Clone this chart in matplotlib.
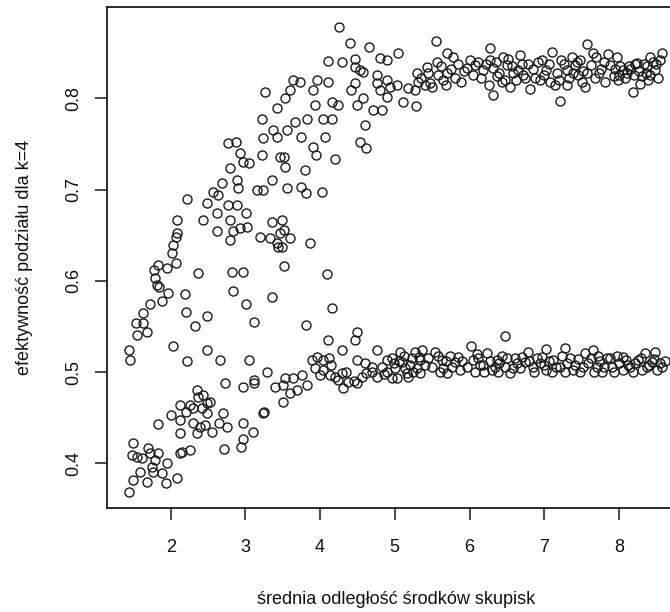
import matplotlib
matplotlib.use("Agg")
import matplotlib.pyplot as plt

plt.rcParams['font.family'] = ['Liberation Sans', 'DejaVu Sans']

# ---- upper branch (rising part and plateau ~0.82) ----
upper_x = [1.44, 1.46, 1.54, 1.55, 1.63, 1.63, 1.68, 1.72, 1.88, 1.96, 1.82,
           1.83, 1.78, 1.79, 1.84, 1.95, 2.08, 2.08, 2.07, 2.03, 2.02, 2.07,
           2.22, 2.48, 2.43, 2.62, 2.57, 2.63, 2.69, 2.77, 2.88, 2.93, 2.97,
           3.05, 2.80, 2.89, 2.90, 2.77, 2.89, 3.01, 2.80, 3.16, 3.23, 3.36,
           3.22, 3.24, 3.42, 3.37, 3.22, 3.42, 3.26, 3.46,
           3.64, 3.73, 3.60, 3.53, 3.96, 4.11, 3.91, 3.93, 4.16, 4.24, 4.49,
           4.58, 4.42, 4.53, 4.47, 4.04, 4.16, 3.83, 3.67, 3.56, 3.74, 4.07,
           3.91, 3.95, 4.20, 3.80, 4.53, 4.61, 4.60, 3.56, 3.74, 3.81, 4.03,
           3.51, 3.53,
           4.25, 4.40, 4.66, 5.04, 5.55, 4.11, 4.29, 4.47, 4.47, 4.58, 4.80,
           4.90, 4.76, 4.76, 4.90, 4.94, 4.80, 4.90, 5.03, 5.18, 5.27, 5.30,
           5.43, 5.56, 5.70, 5.78, 6.01, 5.97, 6.05, 5.70, 5.65, 5.47, 5.31,
           5.11, 5.28, 4.71, 4.83,
           6.28, 6.68, 7.10, 7.57, 7.65, 8.58, 6.32, 7.21, 8.19, 6.12, 6.18,
           6.28, 6.32, 6.37, 6.45, 6.50, 6.43, 6.54, 6.58, 6.65, 6.74, 6.78,
           6.81, 6.97, 6.94, 7.03, 7.14, 7.23, 7.30, 7.30, 7.37, 7.41, 7.45,
           7.48, 7.57, 7.50, 7.74, 7.80, 7.86, 7.97, 7.93, 8.02, 8.06, 8.11,
           8.13, 8.24, 8.31, 8.38, 8.39, 8.46, 8.48, 8.42, 7.99, 8.28,
           5.35, 5.40, 5.45, 5.50, 5.58, 5.62, 5.68, 5.75, 5.80, 5.85, 5.88,
           5.92, 6.08, 6.15, 6.22, 6.26, 6.35, 6.40, 6.47, 6.52, 6.57, 6.62,
           6.70, 6.72, 6.85, 6.88, 6.92, 7.00, 7.06, 7.08, 7.17, 7.20, 7.26,
           7.33, 7.39, 7.44, 7.52, 7.55, 7.62, 7.68, 7.70, 7.76, 7.82, 7.88,
           7.95, 8.00, 8.08, 8.15, 8.20, 8.22, 8.27, 8.33, 8.36, 8.42, 8.50,
           8.55, 8.52]
upper_y = [0.524, 0.513, 0.554, 0.541, 0.565, 0.554, 0.544, 0.575, 0.578, 0.587, 0.595,
           0.617, 0.612, 0.603, 0.593, 0.614, 0.667, 0.652, 0.648, 0.639, 0.630, 0.620,
           0.690, 0.685, 0.667, 0.674, 0.697, 0.694, 0.707, 0.751, 0.752, 0.740, 0.730,
           0.729, 0.724, 0.710, 0.702, 0.683, 0.683, 0.674, 0.667, 0.700, 0.700, 0.710,
           0.738, 0.756, 0.758, 0.765, 0.777, 0.789, 0.807, 0.736,
           0.820, 0.818, 0.809, 0.800, 0.820, 0.818, 0.809, 0.793, 0.796, 0.793, 0.793,
           0.800, 0.809, 0.831, 0.817, 0.777, 0.777, 0.777, 0.774, 0.765, 0.758, 0.758,
           0.747, 0.738, 0.733, 0.721, 0.752, 0.746, 0.771, 0.702, 0.703, 0.696, 0.697,
           0.736, 0.725,
           0.878, 0.861, 0.856, 0.850, 0.863, 0.841, 0.840, 0.843, 0.834, 0.829, 0.844,
           0.842, 0.826, 0.817, 0.820, 0.812, 0.809, 0.801, 0.814, 0.811, 0.809, 0.828,
           0.834, 0.840, 0.850, 0.845, 0.842, 0.833, 0.826, 0.828, 0.820, 0.817, 0.818,
           0.796, 0.792, 0.787, 0.787,
           0.855, 0.847, 0.851, 0.859, 0.850, 0.850, 0.804, 0.797, 0.807, 0.840, 0.831,
           0.842, 0.833, 0.824, 0.845, 0.836, 0.818, 0.812, 0.828, 0.831, 0.822, 0.838,
           0.810, 0.842, 0.820, 0.831, 0.814, 0.842, 0.831, 0.814, 0.845, 0.836, 0.826,
           0.842, 0.828, 0.818, 0.828, 0.840, 0.849, 0.845, 0.824, 0.835, 0.831, 0.828,
           0.835, 0.839, 0.824, 0.835, 0.820, 0.840, 0.831, 0.845, 0.820, 0.816,
           0.822, 0.815, 0.828, 0.812, 0.825, 0.835, 0.815, 0.832, 0.822, 0.838, 0.818,
           0.830, 0.836, 0.822, 0.838, 0.815, 0.840, 0.828, 0.820, 0.843, 0.835, 0.820,
           0.838, 0.826, 0.832, 0.822, 0.840, 0.825, 0.838, 0.818, 0.828, 0.820, 0.838,
           0.822, 0.828, 0.840, 0.830, 0.812, 0.836, 0.822, 0.845, 0.832, 0.818, 0.836,
           0.832, 0.826, 0.822, 0.832, 0.826, 0.838, 0.830, 0.838, 0.828, 0.825, 0.838,
           0.842, 0.822]

# ---- points scattered between the two branches ----
mid_x = [2.37, 2.82, 2.97, 2.84, 3.36, 3.20, 3.33, 3.42, 3.46, 3.36, 3.44,
         2.62, 2.80, 2.84, 2.93, 3.02, 2.19, 2.20, 2.33, 2.48, 2.03, 2.22,
         2.48, 2.66, 3.05, 3.01, 3.12, 3.49, 3.51, 3.60, 3.49, 3.87, 3.51,
         4.09, 4.16, 3.81, 4.49, 4.47, 4.11, 4.29, 4.76, 4.49]
mid_y = [0.608, 0.610, 0.610, 0.589, 0.582, 0.648, 0.647, 0.641, 0.652, 0.664, 0.637,
         0.654, 0.645, 0.655, 0.658, 0.659, 0.586, 0.566, 0.550, 0.561, 0.528, 0.512,
         0.524, 0.513, 0.513, 0.575, 0.555, 0.667, 0.656, 0.647, 0.637, 0.641, 0.616,
         0.607, 0.570, 0.552, 0.544, 0.535, 0.535, 0.524, 0.524, 0.513]

# ---- lower branch (rising part and plateau ~0.51) ----
lower_x = [1.50, 1.48, 1.55, 1.62, 1.70, 1.72, 1.83, 1.79, 1.59, 1.50, 1.44,
           1.68, 1.76, 1.75, 1.95, 1.88, 1.94, 2.08, 2.12, 2.26, 2.15,
           2.12, 2.26, 2.21, 2.30, 2.42, 2.48, 2.00, 2.12, 1.83, 2.12, 2.30,
           2.39, 2.35, 2.46, 2.55, 2.64, 2.70, 2.75, 2.97, 3.10, 2.71, 2.97,
           2.94, 2.73, 2.35, 2.37, 2.43, 2.48, 2.53, 2.97, 3.12, 3.12, 3.29,
           3.39, 3.50, 3.53, 3.64, 3.60, 3.50, 3.69, 3.24, 3.25,
           3.76, 3.83, 3.89, 3.96, 4.04, 4.12, 3.93, 4.00, 4.04, 4.13, 4.20,
           4.24, 4.31, 4.38, 4.29, 4.49, 4.56, 4.62, 4.69, 4.76, 4.83, 4.90,
           4.96, 5.00, 5.07, 5.10, 5.14, 5.18, 5.23, 5.27, 5.34, 5.36, 5.34,
           5.30, 5.16, 5.03, 4.96, 5.54, 5.63, 5.65, 5.70, 5.74, 5.81, 5.87,
           5.97, 6.02, 6.05,
           6.07, 6.12, 6.18, 6.23, 6.30, 6.37, 6.43, 6.48, 6.54, 6.61, 6.68,
           6.74, 6.85, 6.90, 7.03, 7.12, 7.21, 7.28, 7.34, 7.41, 7.48, 7.54,
           7.59, 7.71, 7.77, 7.84, 7.91, 7.97, 8.05, 8.05, 8.12, 8.19, 8.26,
           8.35, 8.37, 8.44, 8.58, 8.51, 8.31, 7.72, 7.11, 6.94, 6.38, 6.14,
           6.48, 7.03, 7.28, 7.66, 8.48, 6.78,
           5.05, 5.12, 5.20, 5.25, 5.32, 5.40, 5.45, 5.50, 5.58, 5.60, 5.68,
           5.77, 5.84, 5.90, 6.10, 6.20, 6.27, 6.34, 6.40, 6.50, 6.58, 6.64,
           6.70, 6.80, 6.87, 6.97, 7.00, 7.07, 7.16, 7.24, 7.30, 7.38, 7.45,
           7.52, 7.62, 7.67, 7.75, 7.80, 7.88, 7.94, 8.00, 8.09, 8.15, 8.22,
           8.30, 8.40, 8.47, 8.55, 8.62, 4.60, 4.70, 4.85, 4.90, 4.99, 4.45,
           4.35, 4.15]
lower_y = [0.422, 0.409, 0.407, 0.406, 0.417, 0.411, 0.411, 0.404, 0.390, 0.382, 0.369,
           0.379, 0.390, 0.396, 0.400, 0.389, 0.378, 0.384, 0.411, 0.415, 0.412,
           0.464, 0.464, 0.456, 0.461, 0.461, 0.455, 0.453, 0.447, 0.443, 0.433, 0.444,
           0.440, 0.433, 0.442, 0.434, 0.444, 0.455, 0.440, 0.444, 0.434, 0.416, 0.427,
           0.418, 0.488, 0.480, 0.473, 0.475, 0.466, 0.467, 0.484, 0.488, 0.491, 0.500,
           0.484, 0.486, 0.493, 0.494, 0.477, 0.467, 0.480, 0.455, 0.456,
           0.497, 0.486, 0.513, 0.517, 0.513, 0.515, 0.504, 0.497, 0.502, 0.497, 0.495,
           0.491, 0.483, 0.489, 0.499, 0.488, 0.495, 0.499, 0.506, 0.495, 0.506, 0.513,
           0.515, 0.504, 0.522, 0.511, 0.504, 0.495, 0.515, 0.522, 0.513, 0.524, 0.499,
           0.504, 0.499, 0.493, 0.493, 0.522, 0.513, 0.504, 0.499, 0.518, 0.511, 0.502,
           0.506, 0.528, 0.513,
           0.500, 0.515, 0.508, 0.521, 0.502, 0.513, 0.518, 0.506, 0.499, 0.515, 0.504,
           0.511, 0.506, 0.515, 0.502, 0.513, 0.506, 0.500, 0.515, 0.508, 0.500, 0.521,
           0.510, 0.506, 0.500, 0.515, 0.506, 0.518, 0.517, 0.502, 0.508, 0.500, 0.513,
           0.521, 0.506, 0.511, 0.506, 0.502, 0.502, 0.518, 0.500, 0.510, 0.500, 0.508,
           0.539, 0.525, 0.526, 0.524, 0.522, 0.522,
           0.512, 0.518, 0.508, 0.500, 0.516, 0.508, 0.515, 0.505, 0.518, 0.500, 0.512,
           0.506, 0.516, 0.512, 0.520, 0.500, 0.512, 0.506, 0.510, 0.515, 0.504, 0.510,
           0.516, 0.512, 0.500, 0.516, 0.508, 0.512, 0.506, 0.518, 0.510, 0.502, 0.514,
           0.506, 0.515, 0.500, 0.512, 0.506, 0.515, 0.500, 0.510, 0.513, 0.505, 0.510,
           0.515, 0.508, 0.514, 0.510, 0.512, 0.510, 0.500, 0.498, 0.500, 0.510, 0.490,
           0.500, 0.508]

x_ticks = [2, 3, 4, 5, 6, 7, 8]
y_ticks = [0.4, 0.5, 0.6, 0.7, 0.8]
x_label = "średnia odległość środków skupisk"
y_label = "efektywność podziału dla k=4"

W, H = 670, 612
fig = plt.figure(figsize=(W / 100, H / 100), dpi=100)
ax = fig.add_axes([107 / W, 104 / H, 578 / W, 501 / H])

style = dict(linestyle='none', marker='o', markersize=6.5,
             markerfacecolor='none', markeredgecolor='#1a1a1a', markeredgewidth=1.0)
for xs, ys in [(upper_x, upper_y), (mid_x, mid_y), (lower_x, lower_y)]:
    ax.plot(xs, ys, **style)

ax.set_xlim(1.147, 8.885)
ax.set_ylim(0.351, 0.900)
ax.set_xticks(x_ticks)
ax.set_xticklabels([str(t) for t in x_ticks])
ax.set_yticks(y_ticks)
ax.set_yticklabels([f"{t:.1f}" for t in y_ticks])
for sp in ax.spines.values():
    sp.set_linewidth(1.3)
    sp.set_color('#1a1a1a')
ax.tick_params(axis='both', length=8.6, width=1.1, color='#1a1a1a',
               labelsize=13, labelcolor='#111111')
ax.tick_params(axis='x', pad=14)
ax.tick_params(axis='y', pad=9)
for lab in ax.get_yticklabels():
    lab.set_rotation(90)
    lab.set_va('center')

fig.text(396 / W, 1 - 600 / H, x_label, ha='center', va='center',
         fontsize=13, color='#111111')
fig.text(25 / W, 1 - 257 / H, y_label, ha='center', va='center',
         rotation=90, fontsize=13, color='#111111')

fig.savefig("out.png", dpi=100)
